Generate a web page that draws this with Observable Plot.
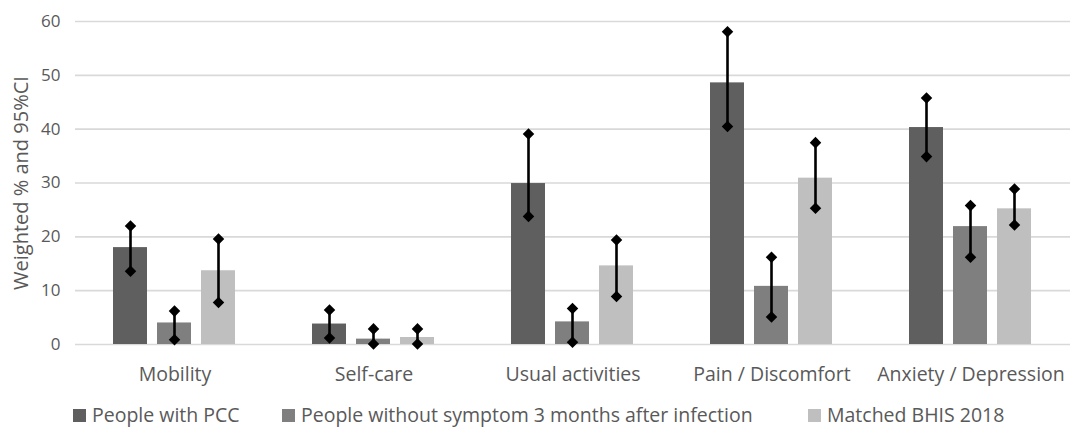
<!DOCTYPE html>
<html>
<head>
<meta charset="utf-8">
<script src="https://cdn.jsdelivr.net/npm/d3@7"></script>
<script src="https://cdn.jsdelivr.net/npm/@observablehq/plot@0.6"></script>
<style>
  html, body { margin: 0; padding: 0; background: #fff; overflow: hidden; }
  #wrap { position: relative; width: 1072px; }
  #ytitle { position: absolute; left: 20px; top: 183px; transform: translate(-50%, -50%) rotate(-90deg); white-space: nowrap; font-family: "Open Sans", sans-serif; font-size: 20px; color: #595959; }
  #legend { position: relative; height: 30px; font-family: "Open Sans", sans-serif; font-size: 19.5px; color: #595959; line-height: 20px; }
  .item { position: absolute; top: 0; white-space: nowrap; }
  .sw { display: inline-block; width: 13px; height: 13px; margin-right: 6px; vertical-align: 0px; }
</style>
</head>
<body>
<div id="wrap">
  <div id="chart"></div>
  <div id="legend"></div>
  <div id="ytitle"></div>
</div>
<script>
const categories = ["Mobility", "Self-care", "Usual activities", "Pain / Discomfort", "Anxiety / Depression"];
const series = ["People with PCC", "People without symptom 3 months after infection", "Matched BHIS 2018"];
const colors = ["#5f5f5f", "#7f7f7f", "#bfbfbf"];
const yTitle = "Weighted % and 95%CI";

const pcc       = [18.0, 3.8, 29.9, 48.6, 40.3];
const pccLo     = [13.6, 1.2, 23.8, 40.5, 34.9];
const pccHi     = [22.0, 6.4, 39.1, 58.1, 45.8];
const without   = [4.0, 1.0, 4.2, 10.8, 21.9];
const withoutLo = [0.9, 0.1, 0.4, 5.1, 16.2];
const withoutHi = [6.2, 2.9, 6.7, 16.2, 25.8];
const bhis      = [13.7, 1.3, 14.6, 30.9, 25.2];
const bhisLo    = [7.8, 0.1, 8.9, 25.3, 22.2];
const bhisHi    = [19.6, 2.9, 19.4, 37.5, 28.9];
const yTicks = [0, 10, 20, 30, 40, 50, 60];

const values = [pcc, without, bhis];
const los = [pccLo, withoutLo, bhisLo];
const his = [pccHi, withoutHi, bhisHi];

const data = [];
categories.forEach((c, i) => {
  series.forEach((s, j) => {
    data.push({cat: c, series: s, value: values[j][i], lo: los[j][i], hi: his[j][i]});
  });
});

const font = "Open Sans, sans-serif";

const chart = Plot.plot({
  width: 1072,
  height: 405,
  marginLeft: 73,
  marginRight: 0,
  marginTop: 21,
  marginBottom: 61,
  style: {fontFamily: font, fontSize: "17px", color: "#595959", background: "#fff", overflow: "visible"},
  fx: {domain: categories, padding: 0},
  x: {domain: series, paddingInner: 0.22, paddingOuter: 0.86, axis: null},
  y: {domain: [0, 60]},
  color: {domain: series, range: colors},
  marks: [
    Plot.ruleY(yTicks, {y: d => d, stroke: "#d9d9d9", strokeWidth: 1.6}),
    Plot.axisY({ticks: yTicks, tickSize: 0, tickPadding: 15, fontSize: 17, label: null}),
    Plot.axisFx({anchor: "bottom", tickSize: 0, tickPadding: 23, fontSize: 19.5, label: null}),
    Plot.barY(data, {fx: "cat", x: "series", y: "value", fill: "series"}),
    Plot.ruleX(data, {fx: "cat", x: "series", y1: "lo", y2: "hi", stroke: "#000", strokeWidth: 2.6}),
    Plot.dot(data, {fx: "cat", x: "series", y: "lo", symbol: "diamond2", r: 5.2, fill: "#000", stroke: "none"}),
    Plot.dot(data, {fx: "cat", x: "series", y: "hi", symbol: "diamond2", r: 5.2, fill: "#000", stroke: "none"})
  ]
});
document.getElementById("chart").appendChild(chart);
document.getElementById("ytitle").textContent = yTitle;

const legendLeft = [73, 282, 808];
const legend = document.getElementById("legend");
series.forEach((s, j) => {
  const it = document.createElement("div");
  it.className = "item";
  it.style.left = legendLeft[j] + "px";
  const sw = document.createElement("span");
  sw.className = "sw";
  sw.style.background = colors[j];
  it.appendChild(sw);
  it.appendChild(document.createTextNode(s));
  legend.appendChild(it);
});
</script>
</body>
</html>
